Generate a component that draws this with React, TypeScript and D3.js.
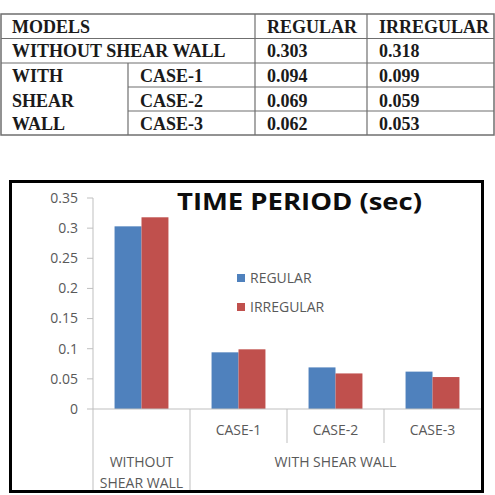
import React from "react";
import * as d3 from "d3";

// table + chart values
const caseLabels = ["", "CASE-1", "CASE-2", "CASE-3"];
const groupLabels = [["WITHOUT", "SHEAR WALL"], ["WITH SHEAR WALL"]];
const groupSpans = [1, 3];
const series = ["REGULAR", "IRREGULAR"];
const regular = [0.303, 0.094, 0.069, 0.062];
const irregular = [0.318, 0.099, 0.059, 0.053];
const yTicks = [0, 0.05, 0.1, 0.15, 0.2, 0.25, 0.3, 0.35];
const colors = ["#4f81bd", "#c0504d"];

const W = 495, H = 495;

const Table = () => {
  const rowsY = [14, 38.5, 63, 87, 111, 135];
  const colX = [1, 128, 255, 367, 494];
  const font = "'Liberation Serif', 'Times New Roman', serif";
  const txt = (x: number, y: number, s: string, k: string) => (
    <text key={k} x={x} y={y} fontFamily={font} fontWeight="bold" fontSize={18} fill="#1a1a1a">
      {s}
    </text>
  );
  const vals = [regular, irregular];
  return (
    <g>
      <rect x={colX[0]} y={rowsY[0]} width={colX[4] - colX[0]} height={rowsY[5] - rowsY[0]} fill="none" stroke="#6f6f6f" strokeWidth={1.5} />
      {/* horizontal lines */}
      <line x1={colX[0]} x2={colX[4]} y1={rowsY[1]} y2={rowsY[1]} stroke="#6f6f6f" strokeWidth={1.2} />
      <line x1={colX[0]} x2={colX[4]} y1={rowsY[2]} y2={rowsY[2]} stroke="#6f6f6f" strokeWidth={1.2} />
      <line x1={colX[1]} x2={colX[4]} y1={rowsY[3]} y2={rowsY[3]} stroke="#6f6f6f" strokeWidth={1.2} />
      <line x1={colX[1]} x2={colX[4]} y1={rowsY[4]} y2={rowsY[4]} stroke="#6f6f6f" strokeWidth={1.2} />
      {/* vertical lines */}
      <line x1={colX[1]} x2={colX[1]} y1={rowsY[2]} y2={rowsY[5]} stroke="#6f6f6f" strokeWidth={1.2} />
      <line x1={colX[2]} x2={colX[2]} y1={rowsY[0]} y2={rowsY[5]} stroke="#6f6f6f" strokeWidth={1.2} />
      <line x1={colX[3]} x2={colX[3]} y1={rowsY[0]} y2={rowsY[5]} stroke="#6f6f6f" strokeWidth={1.2} />
      {txt(12, 33, "MODELS", "h0")}
      {txt(267, 33, series[0], "h1")}
      {txt(379, 33, series[1], "h2")}
      {txt(12, 57, "WITHOUT SHEAR WALL", "r0")}
      {txt(12, 82, "WITH", "w0")}
      {txt(12, 107, "SHEAR", "w1")}
      {txt(12, 130, "WALL", "w2")}
      {caseLabels.slice(1).map((c, i) => txt(140, [82, 107, 130][i], c, "c" + i))}
      {vals.map((v, j) =>
        v.map((d, i) => txt(j === 0 ? 267 : 379, [57, 82, 107, 130][i], d.toFixed(3), `v${j}${i}`))
      )}
    </g>
  );
};

const Chart = () => {
  const font = "'Open Sans', 'Liberation Sans', sans-serif";
  const y = d3.scaleLinear().domain([0, 0.35]).range([409, 198]);
  const x0 = d3.scaleBand<number>().domain(d3.range(caseLabels.length)).range([93, 481]).padding(0);
  const x1 = d3.scaleBand<string>().domain(series).range([0, x0.bandwidth()]).paddingInner(0).paddingOuter(0.8);
  const bw = x0.bandwidth();
  const fmt = (d: number) => String(+d.toFixed(2));
  const vals = [regular, irregular];
  let acc = 0;
  const groups = groupSpans.map((s, gi) => {
    const start = acc;
    acc += s;
    return { start, end: acc, label: groupLabels[gi] };
  });
  return (
    <g>
      <rect x={10.5} y={181.5} width={472} height={310} fill="#fff" stroke="#000" strokeWidth={3} />
      <text x={177} y={210} fontFamily={font} fontWeight="bold" fontSize={23} fill="#0d0d0d" textLength={245} lengthAdjust="spacingAndGlyphs">
        TIME PERIOD (sec)
      </text>
      {/* y axis */}
      <line x1={93} x2={93} y1={y(0.35)} y2={490} stroke="#bfbfbf" />
      {yTicks.map((t) => (
        <g key={t}>
          <line x1={87} x2={93} y1={y(t)} y2={y(t)} stroke="#bfbfbf" />
          <text x={78} y={y(t)} dy="0.35em" textAnchor="end" fontFamily={font} fontSize={14} fill="#595959">
            {fmt(t)}
          </text>
        </g>
      ))}
      {/* bars */}
      {caseLabels.map((_, i) => (
        <g key={i} transform={`translate(${x0(i)},0)`}>
          {series.map((s, j) => (
            <rect key={s} x={x1(s)} y={y(vals[j][i])} width={x1.bandwidth()} height={y(0) - y(vals[j][i])} fill={colors[j]} />
          ))}
        </g>
      ))}
      {/* x axis */}
      <line x1={93} x2={481} y1={y(0)} y2={y(0)} stroke="#bfbfbf" />
      {caseLabels.map((c, i) =>
        i === 0 ? null : (
          <g key={"c" + i}>
            <line
              x1={x0(i)} x2={x0(i)} y1={y(0)}
              y2={groups.some((g) => g.start === i) ? 490 : 443}
              stroke="#bfbfbf"
            />
            <text x={(x0(i) as number) + bw / 2} y={430} dy="0.35em" textAnchor="middle" fontFamily={font} fontSize={14} fill="#595959">
              {c}
            </text>
          </g>
        )
      )}
      {groups.map((g, gi) => {
        const cx = ((x0(g.start) as number) + (x0(g.end - 1) as number) + bw) / 2;
        return (
          <text key={gi} textAnchor="middle" fontFamily={font} fontSize={14} fill="#595959">
            {g.label.map((l, k) => (
              <tspan key={k} x={cx} y={462 + k * 21} dy="0.35em">{l}</tspan>
            ))}
          </text>
        );
      })}
      {/* legend */}
      {series.map((s, j) => (
        <g key={s} transform={`translate(237,${278 + j * 29})`}>
          <rect x={0} y={-4} width={8} height={8} fill={colors[j]} />
          <text x={13} y={0} dy="0.35em" fontFamily={font} fontSize={14} fill="#595959">{s}</text>
        </g>
      ))}
    </g>
  );
};

export default function App() {
  return (
    <div style={{ position: "absolute", left: 0, top: 0 }}>
      <svg width={W} height={H} style={{ display: "block", background: "#fff" }}>
        <rect width={W} height={H} fill="#fff" />
        <Table />
        <Chart />
      </svg>
    </div>
  );
}
